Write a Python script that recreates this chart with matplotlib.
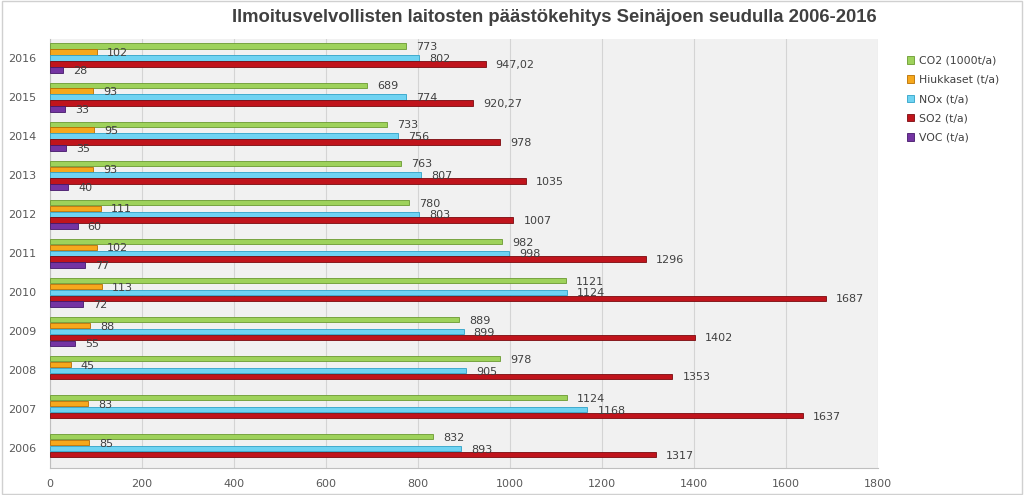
import matplotlib
matplotlib.use("Agg")
import matplotlib.pyplot as plt
import numpy as np
from matplotlib.patches import Rectangle

years = ["2006", "2007", "2008", "2009", "2010", "2011", "2012", "2013", "2014", "2015", "2016"]
series_names = ["CO2 (1000t/a)", "Hiukkaset (t/a)", "NOx (t/a)", "SO2 (t/a)", "VOC (t/a)"]
co2 = [832, 1124, 978, 889, 1121, 982, 780, 763, 733, 689, 773]
hiukkaset = [85, 83, 45, 88, 113, 102, 111, 93, 95, 93, 102]
nox = [893, 1168, 905, 899, 1124, 998, 803, 807, 756, 774, 802]
so2 = [1317, 1637, 1353, 1402, 1687, 1296, 1007, 1035, 978, 920.27, 947.02]
voc = [np.nan, np.nan, np.nan, 55, 72, 77, 60, 40, 35, 33, 28]
xticks = [0, 200, 400, 600, 800, 1000, 1200, 1400, 1600, 1800]

colors = ["#9ed25b", "#f6a81c", "#6fd3f2", "#c0141c", "#7434a2"]
edges = ["#6a9a30", "#b86e00", "#2fa2c8", "#7a0a0e", "#45186a"]

fig = plt.figure(figsize=(10.24, 4.95), dpi=100)
ax = fig.add_axes([50/1024, 1-468/495, (878-50)/1024, (468-38.5)/495])
ax.set_facecolor("#f1f1f1")

data = [co2, hiukkaset, nox, so2, voc]
y = np.arange(len(years))
step = 0.152
h = 0.138
for k, (vals, c, e) in enumerate(zip(data, colors, edges)):
    ypos = y + (2 - k) * step
    ax.barh(ypos, vals, height=h, color=c, edgecolor=e, linewidth=0.6, zorder=3)
    for yy, v in zip(ypos, vals):
        if np.isnan(v):
            continue
        s = str(int(v)) if float(v).is_integer() else ("%.2f" % v).replace(".", ",")
        ax.text(v + 22, yy - 0.03, s, va="center", ha="left", fontsize=8,
                color="#404040", zorder=4)

ax.set_xlim(0, 1800)
ax.set_ylim(-0.5, len(years) - 0.5)
ax.set_xticks(xticks)
ax.set_xticklabels([str(t) for t in xticks])
ax.set_yticks(y)
ax.set_yticklabels(years)
ax.tick_params(axis="both", length=0, labelsize=8, labelcolor="#595959")
ax.tick_params(axis="y", pad=10)
ax.tick_params(axis="x", pad=8)
ax.xaxis.grid(True, color="#d4d4d4", linewidth=0.8, zorder=0)
ax.set_axisbelow(True)
for sp in ["top", "right"]:
    ax.spines[sp].set_visible(False)
ax.spines["left"].set_color("#bfbfbf")
ax.spines["bottom"].set_color("#bfbfbf")

fig.text(0.541, 1-17/495, "Ilmoitusvelvollisten laitosten päästökehitys Seinäjoen seudulla 2006-2016",
         ha="center", va="center", fontsize=13.3, fontweight="bold",
         family=["Liberation Sans Narrow", "Liberation Sans", "DejaVu Sans"], color="#404040")

handles = [Rectangle((0, 0), 1, 1, facecolor=c, edgecolor=e, linewidth=0.6) for c, e in zip(colors, edges)]
leg = fig.legend(handles, series_names, loc="upper left", bbox_to_anchor=(897/1024, 1-46/495),
                 frameon=False, fontsize=7.8, handlelength=0.7, handleheight=0.7,
                 handletextpad=0.4, labelspacing=0.85, labelcolor="#404040")

fig.patches.append(Rectangle((0.002, 0.002), 0.996, 0.996, transform=fig.transFigure,
                             fill=False, edgecolor="#d0d0d0", linewidth=1))
fig.savefig("out.png", dpi=100)
